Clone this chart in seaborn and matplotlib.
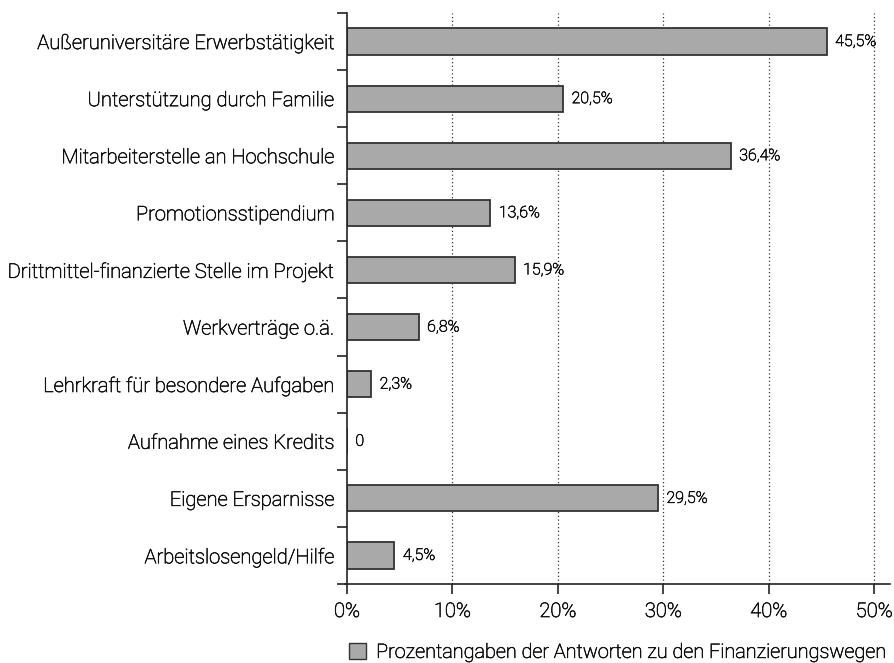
import numpy as np
import pandas as pd
import matplotlib
matplotlib.use("Agg")
import matplotlib.pyplot as plt
import matplotlib.patheffects as pe
import seaborn as sns
from matplotlib.patches import Patch

# values (percent)
categories = [
    "Außeruniversitäre Erwerbstätigkeit",
    "Unterstützung durch Familie",
    "Mitarbeiterstelle an Hochschule",
    "Promotionsstipendium",
    "Drittmittel-finanzierte Stelle im Projekt",
    "Werkverträge o.ä.",
    "Lehrkraft für besondere Aufgaben",
    "Aufnahme eines Kredits",
    "Eigene Ersparnisse",
    "Arbeitslosengeld/Hilfe",
]
values = [45.5, 20.5, 36.4, 13.6, 15.9, 6.8, 2.3, 0.0, 29.5, 4.5]
value_labels = ["45,5%", "20,5%", "36,4%", "13,6%", "15,9%", "6,8%", "2,3%", "0", "29,5%", "4,5%"]
x_ticks = [0, 10, 20, 30, 40, 50]
legend_label = "Prozentangaben der Antworten zu den Finanzierungswegen"

df = pd.DataFrame({"Kategorie": categories, "Wert": values})

sns.set_style("white")
plt.rcParams["font.family"] = ["Roboto", "DejaVu Sans"]

bar_color = "#a9a9a9"
edge_color = "#333333"
text_color = "#111111"
# light font looks too thin, thicken it a little
thick = [pe.withStroke(linewidth=0.45, foreground=text_color)]

fig = plt.figure(figsize=(8.95, 6.63), dpi=100)
ax = fig.add_axes([0.3877, 0.1192, 0.9944 - 0.3877, 0.9804 - 0.1192])

sns.barplot(data=df, x="Wert", y="Kategorie", orient="h", color=bar_color,
            saturation=1, width=0.46, edgecolor=edge_color, linewidth=1.3, ax=ax)

ax.set_xlim(0, 51.5)
ax.set_ylim(9.5, -0.5)

# dotted vertical grid
for t in x_ticks[1:]:
    ax.axvline(t, color="#333333", linestyle=(0, (1, 2)), linewidth=0.9, zorder=0)

for i, (v, lab) in enumerate(zip(values, value_labels)):
    ax.text(v + 0.8, i, lab, va="center", ha="left", fontsize=11.5, color=text_color,
            fontweight="light", path_effects=thick)

ax.set_xticks(x_ticks)
ax.set_xticklabels([f"{t}%" for t in x_ticks], fontsize=14.5, color=text_color,
                   fontweight="light", path_effects=thick)
ax.set_yticks(range(len(categories)))
ax.set_yticklabels(categories, fontsize=14.5, color=text_color, fontweight="light",
                   path_effects=thick)
ax.set_yticks(np.arange(-0.5, len(categories), 1), minor=True)
ax.tick_params(axis="y", which="major", length=0, pad=9)
ax.tick_params(axis="y", which="minor", length=7, width=1.2, color="#222222", left=True)
ax.tick_params(axis="x", length=7, width=1.2, color="#222222", bottom=True, pad=6)

ax.set_xlabel("")
ax.set_ylabel("")
for s in ["top", "right"]:
    ax.spines[s].set_visible(False)
for s in ["left", "bottom"]:
    ax.spines[s].set_color("#222222")
    ax.spines[s].set_linewidth(1.2)
ax.spines["bottom"].set_bounds(-0.2, 51.5)

handle = Patch(facecolor=bar_color, edgecolor=edge_color, linewidth=1.0)
leg = fig.legend([handle], [legend_label], loc="center", bbox_to_anchor=(0.69, 0.016),
                 frameon=False, handlelength=0.85, handleheight=0.85, handletextpad=0.5,
                 prop={"size": 14.3, "weight": "light"})
for txt in leg.get_texts():
    txt.set_color(text_color)
    txt.set_path_effects(thick)

fig.savefig("out.png", dpi=100)
